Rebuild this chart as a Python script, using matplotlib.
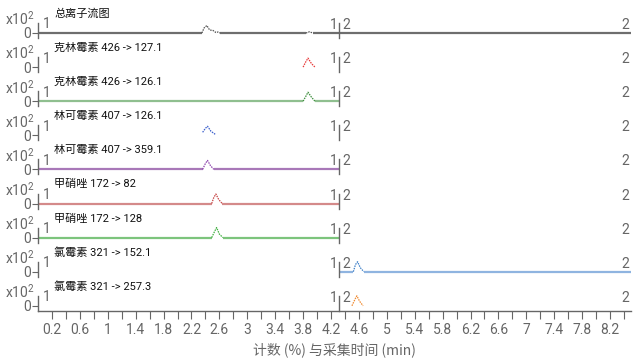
import matplotlib
matplotlib.use("Agg")
import matplotlib.pyplot as plt
from matplotlib import font_manager as fm
import numpy as np

# ---------------- data ----------------
trace_labels = ["总离子流图", "克林霉素 426 -> 127.1", "克林霉素 426 -> 126.1",
                "林可霉素 407 -> 126.1", "林可霉素 407 -> 359.1", "甲硝唑 172 -> 82",
                "甲硝唑 172 -> 128", "氯霉素 321 -> 152.1", "氯霉素 321 -> 257.3"]

# flat baseline stretches (start, end) in min
tic_base = [(0.0, 2.35), (2.61, 3.84), (3.94, 8.5)]
cli127_base = []
cli126_base = [(0.0, 3.80), (3.97, 4.32)]
lin126_base = []
lin359_base = [(0.0, 2.36), (2.52, 4.32)]
met82_base = [(0.0, 2.49), (2.64, 4.32)]
met128_base = [(0.0, 2.49), (2.65, 4.32)]
chl152_base = [(4.32, 4.52), (4.67, 8.5)]
chl257_base = []

# peaks: (times, intensities x10^2)
tic_peaks = [([2.35, 2.38, 2.42, 2.46, 2.51, 2.55, 2.58, 2.61], [0, 0.5, 0.75, 0.3, 0.25, 0.05, 0.1, 0]),
             ([3.84, 3.89, 3.94], [0, 0.12, 0])]
cli127_peaks = [([3.80, 3.84, 3.87, 3.92, 3.97], [0, 0.55, 0.9, 0.35, 0])]
cli126_peaks = [([3.80, 3.84, 3.87, 3.92, 3.97], [0, 0.5, 0.9, 0.4, 0])]
lin126_peaks = [([2.36, 2.40, 2.43, 2.48, 2.54], [0.3, 0.7, 0.9, 0.4, 0.1])]
lin359_peaks = [([2.36, 2.40, 2.43, 2.47, 2.52], [0, 0.6, 0.9, 0.4, 0])]
met82_peaks = [([2.49, 2.52, 2.55, 2.59, 2.64], [0, 0.6, 0.95, 0.4, 0])]
met128_peaks = [([2.49, 2.53, 2.56, 2.60, 2.65], [0, 0.6, 1.0, 0.35, 0])]
chl152_peaks = [([4.52, 4.55, 4.58, 4.62, 4.67], [0, 0.7, 1.0, 0.4, 0])]
chl257_peaks = [([4.50, 4.54, 4.57, 4.61, 4.66], [0, 0.6, 1.0, 0.45, 0])]

segment_break = 4.32
x_min, x_max = 0.0, 8.5
major_ticks = [0.2, 0.6, 1, 1.4, 1.8, 2.2, 2.6, 3, 3.4, 3.8, 4.2, 4.6, 5, 5.4, 5.8, 6.2, 6.6, 7, 7.4, 7.8, 8.2]
minor_ticks = [0.4, 0.8, 1.2, 1.6, 2.0, 2.4, 2.8, 3.2, 3.6, 4.0, 4.4, 4.8, 5.2, 5.6, 6.0, 6.4, 6.8, 7.2, 7.6, 8.0, 8.4]
x_title = "计数 (%) 与采集时间 (min)"

bases = [tic_base, cli127_base, cli126_base, lin126_base, lin359_base, met82_base, met128_base, chl152_base, chl257_base]
peaks = [tic_peaks, cli127_peaks, cli126_peaks, lin126_peaks, lin359_peaks, met82_peaks, met128_peaks, chl152_peaks, chl257_peaks]
base_colors = ["#6e6e6e", "#f08080", "#8fbf8f", "#8fa8e0", "#a878b8", "#d48a8a", "#7cc47c", "#8fb4e0", "#f4b070"]
peak_colors = ["#555555", "#e83a3a", "#3f8f3f", "#3a5fcd", "#8e44ad", "#c84848", "#3fb03f", "#3f80c8", "#f08a30"]

# ---------------- fonts ----------------
avail = {f.name for f in fm.fontManager.ttflist}
narrow = "Liberation Sans Narrow" if "Liberation Sans Narrow" in avail else "Roboto"
plt.rcParams['font.family'] = [narrow, 'Noto Sans CJK SC', 'DejaVu Sans']
plt.rcParams['mathtext.fontset'] = 'custom'
plt.rcParams['mathtext.rm'] = narrow

W, H = 636, 360
fig = plt.figure(figsize=(W / 100, H / 100), dpi=100)
gray = "#666666"

left_px, right_px = 38, 631
first_base, step = 33, 34.1
n = len(trace_labels)

for k in range(n):
    yb = first_base + step * k
    bottom = (H - (yb + 5)) / H
    height = 30 / H
    ax = fig.add_axes([left_px / W, bottom, (right_px - left_px) / W, height])
    ax.set_xlim(x_min, x_max)
    ax.set_ylim(-0.5, 2.5)
    ax.patch.set_alpha(0)
    for s in ["top", "right"]:
        ax.spines[s].set_visible(False)
    ax.spines["left"].set_bounds(-0.5, 1.0)
    ax.spines["left"].set_color(gray)
    ax.spines["left"].set_linewidth(1.0)
    ax.set_yticks([0])
    ax.set_yticklabels(["0"])
    ax.tick_params(axis="y", length=4, width=0.8, color=gray, labelcolor=gray, labelsize=10, pad=1)
    if k < n - 1:
        ax.spines["bottom"].set_visible(False)
        ax.set_xticks([])
    else:
        ax.spines["bottom"].set_color(gray)
        ax.spines["bottom"].set_linewidth(1.0)
        ax.set_xticks(major_ticks)
        ax.set_xticklabels([("%g" % t) for t in major_ticks])
        ax.set_xticks(minor_ticks, minor=True)
        ax.tick_params(axis="x", which="both", direction="out", length=6, width=0.8,
                       color=gray, labelcolor=gray, labelsize=10, pad=3)
        ax.set_xlabel(x_title, color=gray, fontsize=10, labelpad=4,
                      family=['Noto Sans CJK SC', 'DejaVu Sans'])

    # baseline stretches
    for (a, b) in bases[k]:
        ax.plot([a, b], [0, 0], color=base_colors[k], lw=1.6, solid_capstyle="butt")
    # peaks
    for (t, v) in peaks[k]:
        ax.plot(t, v, color=peak_colors[k], lw=0.9, linestyle=(0, (1.2, 0.8)), clip_on=False)

    # segment marker
    ax.plot([segment_break, segment_break], [-0.5, 1.0], color=gray, lw=1.0, clip_on=False)
    ax.text(segment_break - 0.03, 0.1, "1", color=gray, fontsize=10, ha="right", va="bottom")
    ax.text(segment_break + 0.04, 0.1, "2", color=gray, fontsize=10, ha="left", va="bottom")
    ax.text(0.07, 0.15, "1", color=gray, fontsize=10, ha="left", va="bottom")
    ax.text(x_max - 0.02, 0.1, "2", color=gray, fontsize=10, ha="right", va="bottom")

    # scale label and trace label
    fig.text(35 / W, 1 - (yb - 8) / H, "x10$^{2}$", color=gray, fontsize=10, ha="right", va="baseline")
    fig.text(54 / W, 1 - (yb - 16) / H, trace_labels[k], color="#111111", fontsize=8,
             ha="left", va="baseline")

fig.savefig("out.png", dpi=100)
